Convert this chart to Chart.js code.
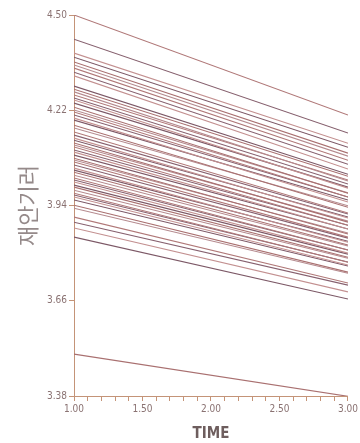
<!DOCTYPE html>
<html lang="ko">
<head>
<meta charset="utf-8">
<title>TIME</title>
<script src="https://cdn.jsdelivr.net/npm/chart.js@4/dist/chart.umd.min.js"></script>
<style>
	html, body { margin: 0; padding: 0; background: #fff; }
	#wrap { position: relative; width: 360px; height: 443px; }
</style>
</head>
<body>
<div id="wrap"><canvas id="chart-time"></canvas></div>
<script>
// Time points (x) for every line
const timePoints = [1.00, 3.00];

// Value of each line at TIME = 1.00 (top to bottom)
const startValues = [
	4.500, 4.429, 4.388, 4.376, 4.362, 4.353, 4.344, 4.332, 4.321, 4.291,
	4.282, 4.274, 4.265, 4.256, 4.250, 4.241, 4.229, 4.221, 4.215, 4.206,
	4.197, 4.191, 4.176, 4.168, 4.156, 4.147, 4.138, 4.132, 4.124, 4.118,
	4.112, 4.103, 4.097, 4.088, 4.079, 4.074, 4.068, 4.059, 4.050, 4.044,
	4.038, 4.029, 4.021, 4.015, 4.009, 4.000, 3.994, 3.985, 3.976, 3.971,
	3.965, 3.956, 3.941, 3.932, 3.906, 3.891, 3.874, 3.847, 3.503
];

// Value of each line at TIME = 3.00
const endValues = [
	4.206, 4.153, 4.123, 4.111, 4.094, 4.085, 4.073, 4.061, 4.047, 4.032,
	4.026, 4.012, 4.015, 4.003, 3.991, 3.994, 3.976, 3.977, 3.965, 3.965,
	3.950, 3.956, 3.935, 3.939, 3.918, 3.915, 3.903, 3.906, 3.891, 3.894,
	3.882, 3.882, 3.871, 3.871, 3.856, 3.859, 3.847, 3.844, 3.832, 3.835,
	3.824, 3.821, 3.809, 3.809, 3.800, 3.797, 3.788, 3.785, 3.773, 3.774,
	3.765, 3.762, 3.744, 3.741, 3.712, 3.706, 3.686, 3.665, 3.379
];

const yTickValues = [3.38, 3.66, 3.94, 4.22, 4.50];
const xTickValues = [1.0, 1.1, 1.2, 1.3, 1.4, 1.5, 1.6, 1.7, 1.8, 1.9, 2.0,
	2.1, 2.2, 2.3, 2.4, 2.5, 2.6, 2.7, 2.8, 2.9, 3.0];
const xLabelValues = [1.0, 1.5, 2.0, 2.5, 3.0];

(function () {
	'use strict';

	const lineColors = ['#b07878', '#86606e', '#c39090', '#7c5866', '#a97070', '#b58a8e'];
	const axisColor = '#c49478';
	const narrow = '"Liberation Sans Narrow", "DejaVu Sans Condensed", sans-serif';
	const tickFont = { family: narrow, size: 10 };

	const datasets = startValues.map((v, i) => ({
		data: [
			{ x: timePoints[0], y: v },
			{ x: timePoints[1], y: endValues[i] }
		],
		borderColor: lineColors[i % lineColors.length],
		borderWidth: 1.1,
		pointRadius: 0,
		fill: false
	}));

	new Chart(document.getElementById('chart-time'), {
		type: 'line',
		data: { datasets: datasets },
		options: {
			responsive: true,
			maintainAspectRatio: false,
			animation: false,
			events: [],
			layout: { padding: { top: 15, right: 12, left: 0, bottom: 0 } },
			plugins: {
				legend: { display: false },
				tooltip: { enabled: false }
			},
			scales: {
				x: {
					type: 'linear',
					min: 1,
					max: 3,
					afterBuildTicks: (axis) => {
						axis.ticks = xTickValues.map(v => ({ value: v }));
					},
					afterFit: (axis) => { axis.height = 47; },
					ticks: {
						autoSkip: false,
						maxRotation: 0,
						padding: 2,
						color: '#8a7272',
						font: tickFont,
						callback: (value) => {
							const hit = xLabelValues.some(l => Math.abs(l - value) < 1e-6);
							return hit ? value.toFixed(2) : '';
						}
					},
					grid: {
						display: true,
						drawOnChartArea: false,
						drawTicks: true,
						tickLength: 5,
						color: axisColor
					},
					border: { display: true, color: axisColor, width: 1 },
					title: {
						display: true,
						text: 'TIME',
						color: '#6e5e5e',
						font: { family: narrow, size: 15, weight: 'bold' },
						padding: { top: 8, bottom: 0 }
					}
				},
				y: {
					type: 'linear',
					min: 3.38,
					max: 4.50,
					afterBuildTicks: (axis) => {
						axis.ticks = yTickValues.map(v => ({ value: v }));
					},
					afterFit: (axis) => { axis.width = 74; },
					ticks: {
						padding: 2,
						color: '#8a7272',
						font: tickFont,
						callback: (value) => value.toFixed(2)
					},
					grid: {
						display: true,
						drawOnChartArea: false,
						drawTicks: true,
						tickLength: 5,
						color: axisColor
					},
					border: { display: true, color: axisColor, width: 1 },
					title: {
						display: true,
						text: '재안기러',
						color: '#958a8a',
						font: { family: '"Noto Sans CJK KR", sans-serif', size: 22 },
						padding: { top: 14, bottom: 10 }
					}
				}
			}
		}
	});
})();
</script>
</body>
</html>
